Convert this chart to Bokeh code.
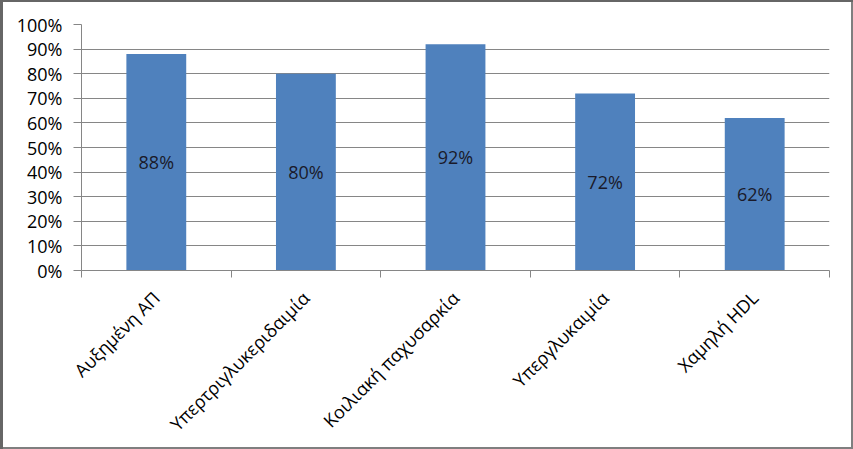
import math
import numpy as np
from bokeh.plotting import figure
from bokeh.models import Range1d, FixedTicker, NumeralTickFormatter, ColumnDataSource
from bokeh.core.properties import value
from bokeh.embed import file_html
from bokeh.resources import INLINE

categories = ["Αυξημένη ΑΠ", "Υπερτριγλυκεριδαιμία", "Κοιλιακή παχυσαρκία", "Υπεργλυκαιμία", "Χαμηλή HDL"]
values = [0.88, 0.80, 0.92, 0.72, 0.62]
value_labels = ["88%", "80%", "92%", "72%", "62%"]
y_ticks = [0.0, 0.1, 0.2, 0.3, 0.4, 0.5, 0.6, 0.7, 0.8, 0.9, 1.0]

FONT = "Open Sans"
GRID = "#868686"
BAR = "#4F81BD"

n = len(categories)
centers = np.arange(n) + 0.5
src = ColumnDataSource(dict(x=centers, top=values, mid=[v / 2 for v in values], lab=value_labels))

p = figure(width=853, height=449, output_backend="svg", toolbar_location=None,
           x_range=Range1d(0, n), y_range=Range1d(0, 1))
p.min_border_left = 81
p.min_border_right = 24
p.min_border_top = 24
p.min_border_bottom = 179
p.outline_line_color = None
p.background_fill_color = "white"
p.border_fill_color = None
p.styles = {"background-color": "white",
            "box-shadow": "inset 3px 2px 0 0 #666666, inset -2px -2px 0 0 #7f7f7f"}

p.vbar(x="x", top="top", bottom=0, width=0.4, source=src, fill_color=BAR, line_color=None)
p.text(x="x", y="mid", text="lab", source=src, text_align="center", text_baseline="middle",
       text_font=value(FONT), text_font_size="18px", text_color="#1a1a2a")

# y axis
p.yaxis.ticker = FixedTicker(ticks=y_ticks)
p.yaxis.formatter = NumeralTickFormatter(format="0%")
p.yaxis.major_tick_out = 8
p.yaxis.major_tick_in = 0
p.yaxis.minor_tick_out = 0
p.yaxis.minor_tick_in = 0
p.yaxis.axis_line_color = GRID
p.yaxis.major_tick_line_color = GRID
p.yaxis.major_label_standoff = 11
p.yaxis.major_label_text_font = FONT
p.yaxis.major_label_text_font_size = "18px"
p.yaxis.major_label_text_color = "black"

# x axis
p.xaxis.ticker = FixedTicker(ticks=list(centers), minor_ticks=list(np.arange(n + 1)))
p.xaxis.major_label_overrides = {float(c): lab for c, lab in zip(centers, categories)}
p.xaxis.major_tick_out = 0
p.xaxis.major_tick_in = 0
p.xaxis.minor_tick_out = 7
p.xaxis.minor_tick_in = 0
p.xaxis.minor_tick_line_color = GRID
p.xaxis.axis_line_color = GRID
p.xaxis.major_label_orientation = math.pi / 4
p.xaxis.major_label_standoff = 17
p.xaxis.major_label_text_font = FONT
p.xaxis.major_label_text_font_size = "18px"
p.xaxis.major_label_text_color = "black"

p.xgrid.grid_line_color = None
p.ygrid.ticker = FixedTicker(ticks=y_ticks)
p.ygrid.grid_line_color = GRID
p.ygrid.grid_line_width = 1

open("out.html", "w").write(file_html(p, INLINE))
